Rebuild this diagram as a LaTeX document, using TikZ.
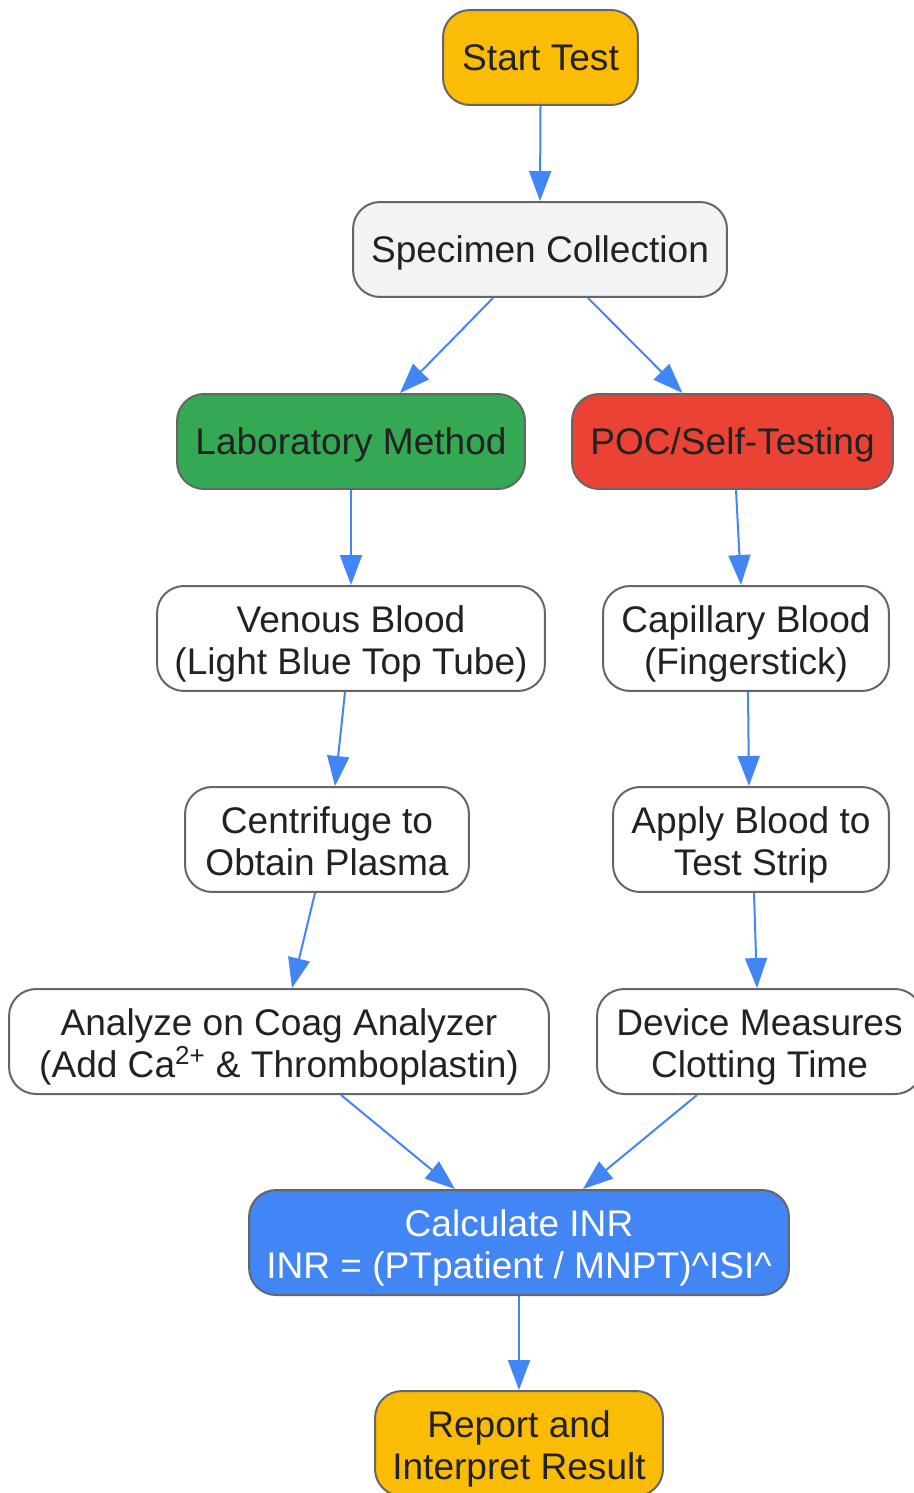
\documentclass[tikz,border=0pt]{standalone}
\usepackage{fontspec}
\setmainfont{Liberation Sans}
\usetikzlibrary{arrows.meta,calc}
\definecolor{startfill}{HTML}{FBBC05}
\definecolor{specfill}{HTML}{F1F3F4}
\definecolor{labfill}{HTML}{34A853}
\definecolor{pocfill}{HTML}{EA4335}
\definecolor{calcfill}{HTML}{4285F4}
\definecolor{edgeblue}{HTML}{4285F4}
\definecolor{boxline}{HTML}{666666}
\definecolor{textdark}{HTML}{222222}

\begin{document}
\begin{tikzpicture}[x=0.02cm,y=-0.02cm,
  box/.style={draw=boxline,line width=0.04cm,rounded corners=0.54cm,inner sep=0pt,align=center,text=textdark,font=\fontsize{21.1}{24.1}\selectfont,
    minimum height=1.9cm,execute at begin node=\rule{0pt}{0.94em},execute at end node=\rule[-0.22em]{0pt}{0.22em}},
  twoline/.style={box,minimum height=2.1cm,execute at begin node={\rule{0pt}{\dimexpr1.03em+24.1pt\relax}}},
  flow/.style={draw=edgeblue,line width=0.04cm,-{Triangle[length=0.6cm,width=0.44cm]}}]
\useasboundingbox (0,0) rectangle (913,1493);
\node[box,fill=startfill,minimum width=3.9cm] (start) at (540.5,57.5) {Start Test};
\node[box,fill=specfill,minimum width=7.48cm] (spec) at (540,249.5) {Specimen Collection};
\node[box,fill=labfill,minimum width=6.96cm] (lab) at (351,441.5) {Laboratory Method};
\node[box,fill=pocfill,minimum width=6.42cm] (poc) at (732.5,441.5) {POC/Self-Testing};
\node[twoline,fill=white,minimum width=7.76cm] (venous) at (351,638.5) {Venous Blood\\(Light Blue Top Tube)};
\node[twoline,fill=white,minimum width=5.72cm] (capillary) at (746,638.5) {Capillary Blood\\(Fingerstick)};
\node[twoline,fill=white,minimum width=5.68cm] (centrifuge) at (327,839.5) {Centrifuge to\\Obtain Plasma};
\node[twoline,fill=white,minimum width=5.52cm] (apply) at (751,839.5) {Apply Blood to\\Test Strip};
\node[twoline,fill=white,minimum width=10.8cm] (analyze) at (279,1041.5) {Analyze on Coag Analyzer\\(Add Ca\textsuperscript{2+} \& Thromboplastin)};
\node[twoline,fill=white,minimum width=6.5cm] (device) at (759.5,1041.5) {Device Measures\\Clotting Time};
\node[twoline,fill=calcfill,text=white,minimum width=10.8cm] (calc) at (519,1242.5) {Calculate INR\\INR = (PTpatient / MNPT)\textasciicircum ISI\textasciicircum};
\node[twoline,fill=startfill,minimum width=5.76cm] (report) at (519,1443.5) {Report and\\Interpret Result};
\draw[flow] (start.south) -- (spec.north);
\draw[flow] ($(spec.south)+(-47,0)$) -- ($(lab.north)+(49,0)$);
\draw[flow] ($(spec.south)+(48,0)$) -- ($(poc.north)+(-50,0)$);
\draw[flow] (lab.south) -- (venous.north);
\draw[flow] ($(poc.south)+(3.5,0)$) -- ($(capillary.north)+(-5,0)$);
\draw[flow] ($(venous.south)+(-6,0)$) -- ($(centrifuge.north)+(8,0)$);
\draw[flow] ($(capillary.south)+(2,0)$) -- ($(apply.north)+(-2,0)$);
\draw[flow] ($(centrifuge.south)+(-12,0)$) -- ($(analyze.north)+(13,0)$);
\draw[flow] ($(apply.south)+(3,0)$) -- ($(device.north)+(-2.5,0)$);
\draw[flow] ($(analyze.south)+(62,0)$) -- ($(calc.north)+(-64,0)$);
\draw[flow] ($(device.south)+(-62.5,0)$) -- ($(calc.north)+(64,0)$);
\draw[flow] (calc.south) -- (report.north);
\end{tikzpicture}
\end{document}
